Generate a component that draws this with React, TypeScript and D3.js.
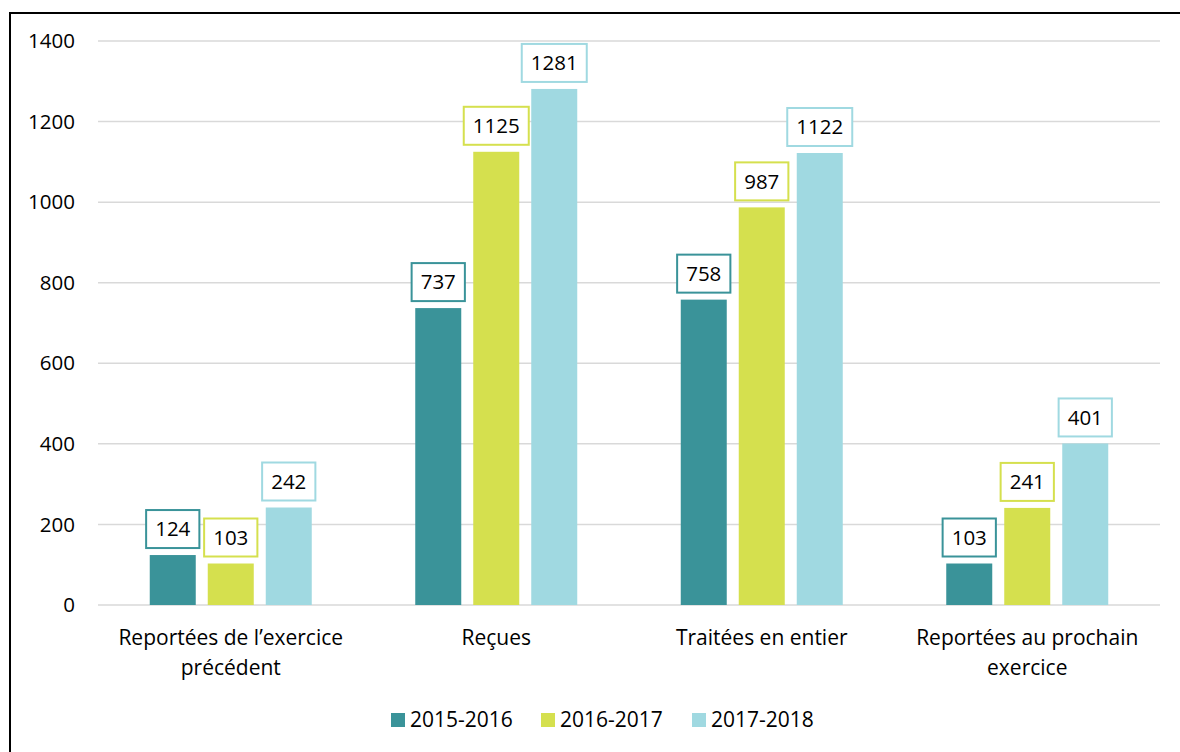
import React from "react";
import * as d3 from "d3";

const categories = [
  ["Reportées de l’exercice", "précédent"],
  ["Reçues"],
  ["Traitées en entier"],
  ["Reportées au prochain", "exercice"],
];
const series = ["2015-2016", "2016-2017", "2017-2018"];
const values2015 = [124, 737, 758, 103];
const values2016 = [103, 1125, 987, 241];
const values2017 = [242, 1281, 1122, 401];
const yTicks = [0, 200, 400, 600, 800, 1000, 1200, 1400];
const colors = ["#3A9399", "#D5E04E", "#A0D9E1"];

const FONT = "'Open Sans', Lato, sans-serif";

export default function App() {
  const W = 1180;
  const H = 752;
  const left = 98;
  const right = 1160;
  const top = 41;
  const bottom = 605;
  const data = [values2015, values2016, values2017];
  const catIdx = categories.map((_, i) => String(i));

  const y = d3.scaleLinear().domain([0, 1400]).range([bottom, top]);
  const x0 = d3.scaleBand().domain(catIdx).range([left, right]).padding(0);
  const groupW = 162;
  const x1 = d3
    .scaleBand()
    .domain(series)
    .range([0, groupW])
    .paddingInner(12 / 58);
  const groupOffset = (x0.bandwidth() - groupW) / 2;

  return (
    <div style={{ position: "absolute", left: 0, top: 0 }}>
      <svg width={W} height={H} style={{ display: "block" }} fontFamily={FONT}>
        <rect x={0} y={0} width={W} height={H} fill="#fff" />
        <rect x={10} y={13} width={1300} height={900} fill="none" stroke="#000" strokeWidth={2} />
        {yTicks.map((t) => (
          <g key={t}>
            <line
              x1={left}
              x2={right}
              y1={y(t)}
              y2={y(t)}
              stroke="#D9D9D9"
              strokeWidth={1.5}
            />
            <text
              x={75}
              y={y(t)}
              dy="0.35em"
              textAnchor="end"
              fontSize={20.5}
              fill="#000"
            >
              {t}
            </text>
          </g>
        ))}
        {catIdx.map((c, ci) => (
          <g key={c}>
            {series.map((s, si) => {
              const v = data[si][ci];
              const bx = (x0(c) as number) + groupOffset + (x1(s) as number);
              const bw = x1.bandwidth();
              const by = y(v);
              const label = String(v);
              const boxW = label.length * 11.75 + 18;
              const boxH = 38;
              const cx = bx + bw / 2;
              const boxY = by - 7 - boxH;
              return (
                <g key={s}>
                  <rect x={bx} y={by} width={bw} height={bottom - by} fill={colors[si]} />
                  <rect
                    x={cx - boxW / 2}
                    y={boxY}
                    width={boxW}
                    height={boxH}
                    fill="#fff"
                    stroke={colors[si]}
                    strokeWidth={2}
                  />
                  <text
                    x={cx}
                    y={boxY + boxH / 2}
                    dy="0.35em"
                    textAnchor="middle"
                    fontSize={20.5}
                    fill="#000"
                  >
                    {label}
                  </text>
                </g>
              );
            })}
            {categories[ci].map((line, li) => (
              <text
                key={li}
                x={(x0(c) as number) + x0.bandwidth() / 2}
                y={645 + li * 30}
                textAnchor="middle"
                fontSize={21}
                fill="#000"
              >
                {line}
              </text>
            ))}
          </g>
        ))}
        {series.map((s, si) => {
          const lx = [391, 541, 692][si];
          return (
            <g key={s}>
              <rect x={lx} y={713} width={14} height={14} fill={colors[si]} />
              <text x={lx + 19} y={727} fontSize={21} fill="#000">
                {s}
              </text>
            </g>
          );
        })}
      </svg>
    </div>
  );
}
